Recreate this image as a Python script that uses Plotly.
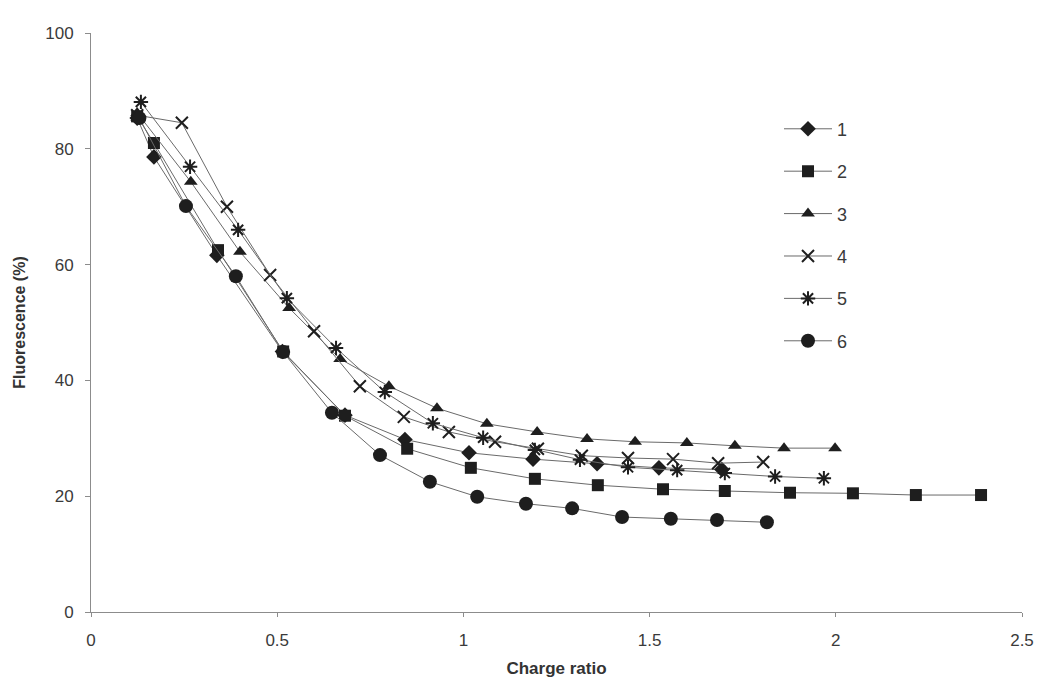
import plotly.graph_objects as go

# Series data (x = charge ratio, y = fluorescence %)
x1 = [0.124, 0.169, 0.338, 0.514, 0.682, 0.843, 1.015, 1.187, 1.359, 1.525, 1.694]
y1 = [85.3, 78.6, 61.6, 45.0, 34.0, 29.8, 27.5, 26.4, 25.6, 24.9, 24.6]

x2 = [0.124, 0.169, 0.341, 0.516, 0.682, 0.849, 1.020, 1.192, 1.361, 1.536, 1.702, 1.877, 2.046, 2.215, 2.390]
y2 = [85.6, 81.0, 62.5, 45.0, 33.9, 28.2, 24.9, 23.0, 21.9, 21.2, 20.9, 20.6, 20.5, 20.2, 20.2]

x3 = [0.124, 0.268, 0.400, 0.532, 0.669, 0.800, 0.929, 1.063, 1.198, 1.332, 1.461, 1.600, 1.729, 1.861, 1.998]
y3 = [86.2, 74.3, 62.2, 52.5, 43.7, 39.0, 35.2, 32.5, 31.1, 29.9, 29.4, 29.2, 28.7, 28.3, 28.3]

x4 = [0.124, 0.244, 0.365, 0.481, 0.599, 0.722, 0.840, 0.961, 1.085, 1.200, 1.318, 1.442, 1.563, 1.684, 1.805]
y4 = [85.8, 84.5, 70.0, 58.2, 48.5, 39.0, 33.7, 31.1, 29.4, 28.2, 27.0, 26.6, 26.4, 25.7, 25.9]

x5 = [0.134, 0.266, 0.395, 0.526, 0.658, 0.789, 0.918, 1.053, 1.192, 1.313, 1.442, 1.574, 1.702, 1.837, 1.968]
y5 = [88.1, 76.9, 66.0, 54.2, 45.6, 38.0, 32.6, 30.1, 28.0, 26.3, 25.0, 24.5, 24.0, 23.4, 23.1]

x6 = [0.130, 0.255, 0.389, 0.516, 0.647, 0.776, 0.910, 1.037, 1.168, 1.292, 1.426, 1.557, 1.681, 1.815]
y6 = [85.3, 70.1, 58.0, 44.9, 34.4, 27.1, 22.5, 19.9, 18.7, 17.9, 16.4, 16.1, 15.9, 15.5]

names = ["1", "2", "3", "4", "5", "6"]
xs = [x1, x2, x3, x4, x5, x6]
ys = [y1, y2, y3, y4, y5, y6]
symbols = ["diamond", "square", "triangle-up", "x-thin-open", "asterisk-open", "circle"]
sizes = [12, 12, 12, 12, 12, 14]

fig = go.Figure()
for i, (n, xv, yv, sym, sz) in enumerate(zip(names, xs, ys, symbols, sizes)):
    open_sym = sym.endswith("open")
    fig.add_trace(go.Scatter(
        x=xv, y=yv, name=n, mode="lines+markers",
        line=dict(color="#6a6a6a", width=1),
        marker=dict(symbol=sym, size=sz, color="#1e1e1e",
                    line=dict(color="#1e1e1e", width=2 if open_sym else 0)),
        legendgroup=n,
    ))

fig.update_layout(
    width=1042, height=679,
    margin=dict(l=83, r=28, t=25, b=75),
    paper_bgcolor="white", plot_bgcolor="white",
    font=dict(family="Liberation Sans, Arial, sans-serif", size=17, color="#3a3a3a"),
    showlegend=True,
    legend=dict(x=0.739, y=0.866, xanchor="left", yanchor="top",
                bgcolor="rgba(0,0,0,0)", font=dict(size=18, color="#3a3a3a"),
                tracegroupgap=16, itemwidth=48),
    xaxis=dict(range=[0, 2.5], dtick=0.5, showgrid=False, zeroline=False,
               showline=True, linecolor="#8c8c8c", linewidth=1, automargin=False,
               ticks="outside", ticklen=4, tickcolor="#8c8c8c",
               ticklabelstandoff=9,
               title=dict(text="<b>Charge ratio</b>", font=dict(size=17, color="#333333"), standoff=12)),
    yaxis=dict(range=[0, 100], dtick=20, showgrid=False, zeroline=False,
               showline=True, linecolor="#8c8c8c", linewidth=1, automargin=False,
               ticks="outside", ticklen=5, tickcolor="#8c8c8c",
               ticklabelstandoff=8,
               title=dict(text="<b>Fluorescence (%)</b>", font=dict(size=16, color="#333333"), standoff=15)),
)

fig.write_html("out.html")
